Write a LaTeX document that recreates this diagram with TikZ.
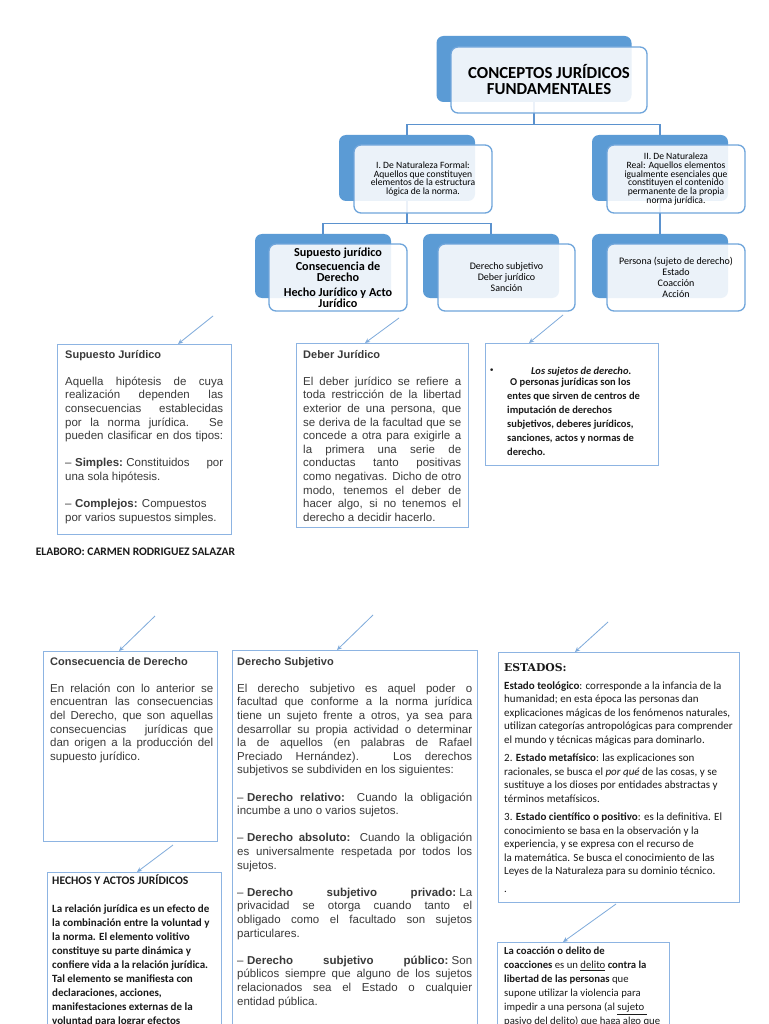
\documentclass[tikz,border=0pt]{standalone}
\usepackage{fontspec}
\setmainfont{Carlito}
\newfontfamily\arialfont{Liberation Sans}
\newfontfamily\serifbold{DejaVu Serif}
\newfontfamily\dejavusans{DejaVu Sans}
\usetikzlibrary{arrows.meta,calc}
\definecolor{shadowblue}{HTML}{5B9BD5}
\definecolor{frontline}{HTML}{6FA5DB}
\definecolor{connblue}{HTML}{5B92CE}
\definecolor{boxline}{HTML}{8DB4E2}
\definecolor{arrowblue}{HTML}{7EAADB}
\definecolor{graytext}{HTML}{3A3A3A}
\definecolor{darktext}{HTML}{1A1A1A}
\newcommand\jl[1]{\hbox to\linewidth{#1}}
\newcommand\el[1]{\hbox{#1}}
\newcommand\bl{\hbox{}}
\newcommand\dsh{–\kern3.5pt}
\newcommand\fsp{\kern3.3pt}
\newcommand\tblock[2]{\vtop{\hsize=#1\linewidth=\hsize\parskip=0pt #2}}
\begin{document}
\begin{tikzpicture}[x=1pt,y=-1pt,
  shadowbox/.style={fill=shadowblue,draw=none,rounded corners=7pt,inner sep=0pt},
  frontbox/.style={fill=white,fill opacity=0.88,text opacity=1,draw=frontline,draw opacity=1,line width=1.3pt,rounded corners=7pt,inner sep=0pt,align=center,text=black},
  conn/.style={draw=connblue,line width=1.3pt},
  tbox/.style={draw=boxline,line width=1.1pt,inner sep=0pt,anchor=north west},
  arr/.style={draw=arrowblue,line width=0.8pt,-{Stealth[length=5pt,width=4.5pt]}},
  ablock/.style={anchor=base west,inner sep=0pt,text=graytext,font=\arialfont\fontsize{11.5}{13.6}\selectfont},
  cblock/.style={anchor=base west,inner sep=0pt,text=darktext}]
\useasboundingbox (0,0) rectangle (768,1024);
\fill[white] (0,0) rectangle (768,1024);

% ---- tree shadows
\node[shadowbox,minimum width=195pt,minimum height=66pt] (topS) at (534,69) {};
\node[shadowbox,minimum width=136pt,minimum height=66pt] (lS) at (407,168) {};
\node[shadowbox,minimum width=136pt,minimum height=66pt] (rS) at (660,168) {};
\node[shadowbox,minimum width=136pt,minimum height=64pt] (aS) at (323,266) {};
\node[shadowbox,minimum width=136pt,minimum height=64pt] (bS) at (491,266) {};
\node[shadowbox,minimum width=136pt,minimum height=64pt] (cS) at (660,266) {};

% ---- tree connectors
\draw[conn] (topS.south) -- ++(0,22) -| (lS.north);
\draw[conn] (topS.south) -- ++(0,22) -| (rS.north);
\draw[conn] (lS.south) -- ++(0,22) -| (aS.north);
\draw[conn] (lS.south) -- ++(0,22) -| (bS.north);
\draw[conn] (rS.south) -- (cS.north);

% ---- tree front boxes
\node[frontbox,minimum width=196pt,minimum height=66pt,font=\bfseries\fontsize{16.8}{16}\selectfont] (topF) at (549,80) {CONCEPTOS JURÍDICOS\\FUNDAMENTALES};
\node[frontbox,minimum width=138pt,minimum height=68pt,font=\fontsize{9.6}{8.9}\selectfont] (lF) at (423,179) {I. De Naturaleza Formal:\\Aquellos que constituyen\\elementos de la estructura\\lógica de la norma.};
\node[frontbox,minimum width=138pt,minimum height=68pt,font=\fontsize{9.6}{8.7}\selectfont] (rF) at (676,179) {II. De Naturaleza\\Real: Aquellos elementos\\igualmente esenciales que\\constituyen el contenido\\permanente de la propia\\norma jurídica.};
\node[frontbox,minimum width=138pt,minimum height=67pt,font=\bfseries\fontsize{12.2}{11}\selectfont] (aF) at (338,277.5) {Supuesto jurídico\\[3.5pt]Consecuencia de\\Derecho\\[3.5pt]Hecho Jurídico y Acto\\Jurídico};
\node[frontbox,minimum width=137pt,minimum height=67pt,font=\fontsize{10}{11}\selectfont] (bF) at (506.5,277.5) {Derecho subjetivo\\Deber jurídico\\Sanción};
\node[frontbox,minimum width=138pt,minimum height=67pt,font=\fontsize{10}{11}\selectfont] (cF) at (676,277.5) {Persona (sujeto de derecho)\\Estado\\Coacción\\Acción};

% ---- text boxes
\node[tbox,minimum width=174pt,minimum height=190pt] (supB) at (57,344) {};
\node[tbox,minimum width=172pt,minimum height=184pt] (debB) at (296,343) {};
\node[tbox,minimum width=173pt,minimum height=122pt] (sujB) at (485,343) {};
\node[tbox,minimum width=174pt,minimum height=190pt] (conB) at (43,651) {};
\node[tbox,minimum width=245pt,minimum height=400pt] (dsB) at (232,650) {};
\node[tbox,minimum width=241pt,minimum height=250pt] (estB) at (498,652) {};
\node[tbox,minimum width=174pt,minimum height=180pt] (heB) at (47,872) {};
\node[tbox,minimum width=172pt,minimum height=110pt] (coB) at (497,942) {};

% ---- arrows
\coordinate (s1) at (213,316); \draw[arr] (s1) -- ($(supB.north west)+(121,0)$);
\coordinate (s2) at (399,318); \draw[arr] (s2) -- ($(debB.north west)+(69,0)$);
\coordinate (s3) at (563,315); \draw[arr] (s3) -- ($(sujB.north west)+(44,0)$);
\coordinate (s4) at (155,616); \draw[arr] (s4) -- ($(conB.north west)+(76,0)$);
\coordinate (s5) at (373,615); \draw[arr] (s5) -- ($(dsB.north west)+(105,0)$);
\coordinate (s6) at (608,622); \draw[arr] (s6) -- ($(estB.north west)+(77,0)$);
\coordinate (s7) at (173,845); \draw[arr] (s7) -- ($(heB.north west)+(90,0)$);
\coordinate (s8) at (616,904); \draw[arr] (s8) -- ($(coB.north west)+(66,0)$);

% ---- texts
\node[ablock] (supT) at (65,358) {\tblock{158pt}{%
\el{\bfseries\fontsize{11}{13.6}\selectfont Supuesto Jurídico}
\bl
\jl{Aquella hipótesis de cuya}
\jl{realización dependen las}
\jl{consecuencias establecidas}
\jl{por la norma jurídica. Se}
\jl{pueden clasificar en dos tipos:}
\bl
\jl{\dsh\textbf{Simples:}\fsp Constituidos por}
\el{una sola hipótesis.}
\bl
\el{\dsh\textbf{Complejos:} Compuestos}
\el{por varios supuestos simples.}}};

\node[ablock] (debT) at (303,358) {\tblock{158pt}{%
\el{\bfseries\fontsize{11}{13.6}\selectfont Deber Jurídico}
\bl
\jl{El deber jurídico se refiere a}
\jl{toda restricción de la libertad}
\jl{exterior de una persona, que}
\jl{se deriva de la facultad que se}
\jl{concede a otra para exigirle a}
\jl{la primera una serie de}
\jl{conductas tanto positivas}
\jl{como negativas. Dicho de otro}
\jl{modo, tenemos el deber de}
\jl{hacer algo, si no tenemos el}
\el{derecho a decidir hacerlo.}}};

\node[cblock,font=\dejavusans\fontsize{9}{14}\selectfont] (bul) at (489,373.5) {•};
\node[cblock,font=\bfseries\fontsize{10.5}{14}\selectfont] (sujT) at (507,374) {\tblock{148pt}{%
\jl{\hfil\textit{Los sujetos de derecho.}\hfil}
\vskip-3pt
\el{\kern3pt O personas jurídicas son los}
\el{entes que sirven de centros de}
\el{imputación de derechos}
\el{subjetivos, deberes jurídicos,}
\el{sanciones, actos y normas de}
\el{derecho.}}};

\node[anchor=base,inner sep=0pt,text=darktext,font=\bfseries\fontsize{11.5}{13}\selectfont] (elab) at (135.5,555) {ELABORO: CARMEN RODRIGUEZ SALAZAR};

\node[ablock] (conT) at (50,665) {\tblock{163pt}{%
\el{\bfseries\fontsize{11}{13.6}\selectfont Consecuencia de Derecho}
\bl
\jl{En relación con lo anterior se}
\jl{encuentran las consecuencias}
\jl{del Derecho, que son aquellas}
\jl{consecuencias \ \ jurídicas que}
\jl{dan origen a la producción del}
\el{supuesto jurídico.}}};

\node[ablock] (dsT) at (237,665) {\tblock{235pt}{%
\el{\bfseries\fontsize{11}{13.6}\selectfont Derecho Subjetivo}
\bl
\jl{El derecho subjetivo es aquel poder o}
\jl{facultad que conforme a la norma jurídica}
\jl{tiene un sujeto frente a otros, ya sea para}
\jl{desarrollar su propia actividad o determinar}
\jl{la de aquellos (en palabras de Rafael}
\jl{Preciado Hernández). Los derechos}
\el{subjetivos se subdividen en los siguientes:}
\bl
\jl{\dsh\textbf{Derecho relativo:} Cuando la obligación}
\el{incumbe a uno o varios sujetos.}
\bl
\jl{\dsh\textbf{Derecho absoluto:} Cuando la obligación}
\jl{es universalmente respetada por todos los}
\el{sujetos.}
\bl
\jl{\dsh\textbf{Derecho subjetivo privado:}\fsp La}
\jl{privacidad se otorga cuando tanto el}
\jl{obligado como el facultado son sujetos}
\el{particulares.}
\bl
\jl{\dsh\textbf{Derecho subjetivo público:}\fsp Son}
\jl{públicos siempre que alguno de los sujetos}
\jl{relacionados sea el Estado o cualquier}
\el{entidad pública.}}};

\node[cblock,font=\fontsize{11}{13.5}\selectfont] (estT) at (504,671) {\tblock{232pt}{%
\el{\serifbold\bfseries\fontsize{10.8}{13.5}\selectfont ESTADOS:}
\vskip4.5pt
\el{\textbf{Estado teológico}: corresponde a la infancia de la}
\el{humanidad; en esta época las personas dan}
\el{explicaciones mágicas de los fenómenos naturales,}
\el{utilizan categorías antropológicas para comprender}
\el{el mundo y técnicas mágicas para dominarlo.}
\vskip5pt
\el{2. \textbf{Estado metafísico}: las explicaciones son}
\el{racionales, se busca el \textit{por qué} de las cosas, y se}
\el{sustituye a los dioses por entidades abstractas y}
\el{términos metafísicos.}
\vskip5pt
\el{3. \textbf{Estado científico o positivo}: es la definitiva. El}
\el{conocimiento se basa en la observación y la}
\el{experiencia, y se expresa con el recurso de}
\el{la matemática. Se busca el conocimiento de las}
\el{Leyes de la Naturaleza para su dominio técnico.}
\vskip4pt
\el{.}}};

\node[cblock,font=\bfseries\fontsize{11}{14}\selectfont] (heT) at (52,884.5) {\tblock{166pt}{%
\el{\fontsize{11.6}{14}\selectfont HECHOS Y ACTOS JURÍDICOS}
\bl
\el{La relación jurídica es un efecto de}
\el{la combinación entre la voluntad y}
\el{la norma. El elemento volitivo}
\el{constituye su parte dinámica y}
\el{confiere vida a la relación jurídica.}
\el{Tal elemento se manifiesta con}
\el{declaraciones, acciones,}
\el{manifestaciones externas de la}
\el{voluntad para lograr efectos}}};

\node[cblock,font=\fontsize{10.7}{14}\selectfont] (coT) at (504,954.5) {\tblock{162pt}{%
\el{\textbf{La coacción o delito de}}
\el{\textbf{coacciones} es un \underline{delito} \textbf{contra la}}
\el{\textbf{libertad de las personas} que}
\el{supone utilizar la violencia para}
\el{impedir a una persona (al \underline{sujeto\ }}
\el{pasivo del delito) que haga algo que}}};
\end{tikzpicture}
\end{document}
